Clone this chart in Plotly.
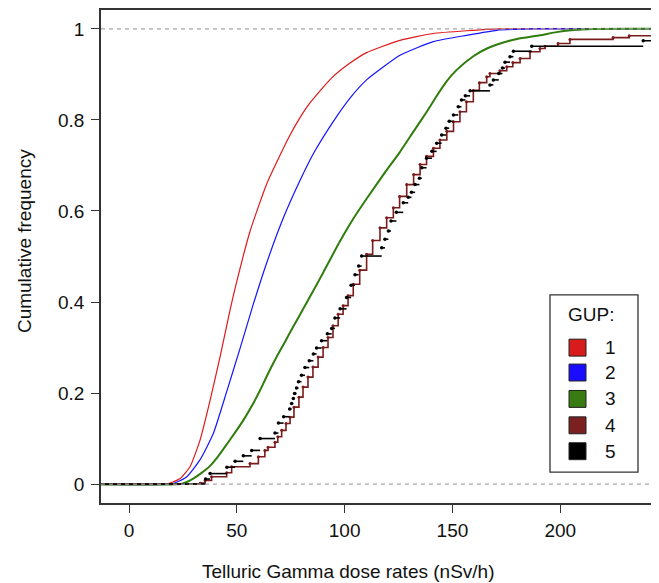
import plotly.graph_objects as go

# ---------------- data ----------------
# GUP 1 (red) : dose rate (nSv/h) vs cumulative frequency
red_x = [17, 20, 23.7, 28.3, 32.9, 37.6, 42.2, 46.8, 49.2, 56.1, 63.9, 73.9, 79.3, 84, 93.9,
         102.5, 110.2, 125.7, 141, 156.6, 172]
red_F = [0, 0.004, 0.012, 0.038, 0.096, 0.184, 0.279, 0.381, 0.43, 0.555, 0.66, 0.76, 0.805,
         0.838, 0.892, 0.925, 0.948, 0.975, 0.99, 0.996, 1.0]

# GUP 2 (blue)
blue_x = [19, 22, 26.8, 32.9, 39.1, 45.3, 51.5, 57.5, 64, 71.6, 79.3, 86, 94.8, 102.5, 110.2,
          125.7, 141.1, 156.6, 170.5, 187]
blue_F = [0, 0.004, 0.016, 0.053, 0.111, 0.203, 0.298, 0.393, 0.488, 0.585, 0.667, 0.73, 0.797,
          0.848, 0.888, 0.942, 0.972, 0.986, 0.997, 1.0]

# GUP 3 (green)
green_x = [23.7, 26.5, 29.8, 33.5, 37.6, 41.5, 45.3, 49, 53, 57, 60.8, 64.5, 68.5, 72.5, 76.2,
           80.8, 86.3, 90.1, 97.9, 104, 110.2, 118, 125.7, 132, 138.1, 143, 147.3, 152, 159.7,
           166, 172.1, 180, 190.6, 198.3, 205, 215]
green_F = [0, 0.004, 0.012, 0.024, 0.040, 0.062, 0.087, 0.112, 0.14, 0.172, 0.206, 0.243, 0.28,
           0.314, 0.346, 0.385, 0.432, 0.465, 0.534, 0.583, 0.627, 0.68, 0.73, 0.775, 0.818,
           0.855, 0.885, 0.91, 0.94, 0.957, 0.968, 0.978, 0.986, 0.993, 0.997, 1.0]

# GUP 4 (brown) step function: left end of each step
brown_x = [33, 35.3, 38.3, 45.3, 47.6, 56.1, 60, 63, 64.5, 67.7, 69, 70.8, 72.8, 74.7, 76.5,
           78.8, 80.7, 83, 85.3, 87.7, 90, 92.3, 94.6, 97, 99.3, 101.6, 104, 107, 110.2, 113,
           116.4, 119.5, 122.6, 125.5, 128.8, 132, 135, 138, 141.2, 144.2, 147.4, 150.5, 153.5,
           156.5, 159.7, 162.5, 165.9, 167.4, 172, 175.2, 178, 181.4, 186, 190.6, 193, 199,
           204.5, 224.5, 232, 246, 252]
brown_F = [0.002, 0.008, 0.016, 0.025, 0.038, 0.045, 0.06, 0.074, 0.081, 0.092, 0.104, 0.118,
           0.133, 0.147, 0.169, 0.191, 0.213, 0.235, 0.257, 0.279, 0.3, 0.322, 0.348, 0.373,
           0.392, 0.414, 0.439, 0.47, 0.505, 0.535, 0.563, 0.585, 0.607, 0.632, 0.658, 0.68,
           0.702, 0.72, 0.738, 0.756, 0.775, 0.796, 0.818, 0.84, 0.865, 0.882, 0.895, 0.902,
           0.908, 0.917, 0.926, 0.935, 0.95, 0.957, 0.962, 0.968, 0.977, 0.981, 0.985, 0.988, 1.0]

# GUP 5 (black) step function without verticals: left end of each step
black_x = [35.5, 37.6, 45.4, 49.2, 53.0, 56.9, 60.8, 67.7, 69.3, 71.7, 74.5, 75.4, 76.2, 76.8,
           77.7, 78.6, 80.0, 81.6, 83.6, 85.5, 87.0, 89.3, 92.0, 94.0, 95.5, 97.9, 100.9, 103.0,
           104.8, 106.5, 107.9, 117.2, 118.7, 120.3, 121.5, 124.0, 127.2, 129.5, 131.0, 132.7,
           134.7, 135.8, 138.0, 140.5, 142.7, 145.0, 147.0, 148.5, 150.5, 152.7, 154.2, 156.0,
           158.2, 167.4, 169.0, 171.5, 173.2, 174.4, 176.7, 178.3, 186.8, 238.5, 255]
black_F = [0.011, 0.023, 0.037, 0.050, 0.062, 0.074, 0.100, 0.112, 0.134, 0.148, 0.165, 0.177,
           0.188, 0.199, 0.211, 0.225, 0.239, 0.256, 0.271, 0.286, 0.299, 0.315, 0.330, 0.342,
           0.365, 0.385, 0.410, 0.437, 0.460, 0.479, 0.501, 0.519, 0.538, 0.556, 0.578, 0.597,
           0.618, 0.630, 0.641, 0.658, 0.672, 0.695, 0.716, 0.731, 0.749, 0.767, 0.782, 0.797,
           0.811, 0.829, 0.844, 0.853, 0.864, 0.877, 0.888, 0.902, 0.914, 0.927, 0.939, 0.951,
           0.962, 0.974, 1.0]

groups = ["1", "2", "3", "4", "5"]
colors = ["#e01a1a", "#1414ff", "#2f7d0c", "#7a1c1c", "#000000"]
legend_fill = ["#d81c1c", "#1a0cff", "#3a7a12", "#7a2020", "#000000"]

x_range = [-13, 243.5]
y_range = [-0.0416, 1.0416]
x_ticks = [0, 50, 100, 150, 200]
y_ticks = [0, 0.2, 0.4, 0.6, 0.8, 1]
y_ticktext = ["0", "0.2", "0.4", "0.6", "0.8", "1"]

# ---------------- figure ----------------
FONT = "Liberation Sans, Arial, sans-serif"
OFF = 8                      # the page body has an 8px margin
W, H = 659 - OFF, 583 - OFF
L, R, T, B = 101 - OFF, 654 - OFF, 8 - OFF, 503 - OFF   # plot area in figure pixels


def px_x(p):
    """screen pixel -> paper x"""
    return (p - OFF - L) / (R - L)


def px_y(p):
    """screen pixel -> paper y"""
    return (B - (p - OFF)) / (B - T)


fig = go.Figure()

lo, hi = -30, 270
for xs, fs, col, w in [(red_x, red_F, colors[0], 1.2),
                       (blue_x, blue_F, colors[1], 1.2),
                       (green_x, green_F, colors[2], 2.0)]:
    fig.add_trace(go.Scatter(x=[lo] + xs + [hi], y=[0] + fs + [1], mode="lines",
                             line=dict(color=col, width=w, shape="spline", smoothing=0.5),
                             showlegend=False, hoverinfo="skip"))

# brown: step function
fig.add_trace(go.Scatter(x=[lo] + brown_x, y=[0] + brown_F, mode="lines+markers",
                         line=dict(color=colors[3], width=1.6, shape="hv"),
                         marker=dict(color=colors[3], size=3),
                         showlegend=False, hoverinfo="skip"))

# black: horizontal segments only
bx, by = [lo, black_x[0], None], [0, 0, None]
for i in range(len(black_x) - 1):
    bx += [black_x[i], black_x[i + 1], None]
    by += [black_F[i], black_F[i], None]
fig.add_trace(go.Scatter(x=bx, y=by, mode="lines", line=dict(color=colors[4], width=1.6),
                         showlegend=False, hoverinfo="skip", connectgaps=False))
fig.add_trace(go.Scatter(x=black_x, y=black_F, mode="markers",
                         marker=dict(color=colors[4], size=3.5),
                         showlegend=False, hoverinfo="skip"))

shapes = []
for yv in [0, 1]:
    shapes.append(dict(type="line", xref="paper", x0=0, x1=1, yref="y", y0=yv, y1=yv,
                       line=dict(color="#a8a8a8", width=1.2, dash="4px,4px"), layer="above"))

# manual legend
shapes.append(dict(type="rect", xref="paper", yref="paper",
                   x0=px_x(550), x1=px_x(638), y0=px_y(472), y1=px_y(294),
                   line=dict(color="#333333", width=1.3), fillcolor="white", layer="above"))
TXT = dict(family=FONT, size=19, color="#111")
annotations = [dict(text="GUP:", xref="paper", yref="paper", x=px_x(591), y=px_y(314),
                    showarrow=False, font=TXT, xanchor="center", yanchor="middle")]
row_y = [347, 372, 398.5, 425, 451]
for g, fc, ry in zip(groups, legend_fill, row_y):
    shapes.append(dict(type="rect", xref="paper", yref="paper",
                       x0=px_x(569), x1=px_x(586), y0=px_y(ry + 8.5), y1=px_y(ry - 8.5),
                       line=dict(color="#222222", width=1), fillcolor=fc, layer="above"))
    annotations.append(dict(text=g, xref="paper", yref="paper", x=px_x(610), y=px_y(ry),
                            showarrow=False, font=TXT, xanchor="center", yanchor="middle"))

annotations.append(dict(text="Telluric Gamma dose rates (nSv/h)", xref="paper", yref="paper",
                        x=px_x(348), y=px_y(572), showarrow=False, font=TXT,
                        xanchor="center", yanchor="middle"))
annotations.append(dict(text="Cumulative frequency", xref="paper", yref="paper",
                        x=px_x(24), y=px_y(240), showarrow=False, textangle=-90, font=TXT,
                        xanchor="center", yanchor="middle"))

axis_common = dict(showgrid=False, zeroline=False, showline=True, mirror=True,
                   linecolor="#333333", linewidth=1.5, ticks="outside", ticklen=8,
                   tickwidth=1.2, tickcolor="#333333", tickfont=TXT)

fig.update_layout(
    width=W, height=H,
    margin=dict(l=L, r=W - R, t=T, b=H - B, pad=0),
    paper_bgcolor="white", plot_bgcolor="white",
    xaxis=dict(range=x_range, tickvals=x_ticks, ticktext=[str(v) for v in x_ticks],
               ticklabelstandoff=1, **axis_common),
    yaxis=dict(range=y_range, tickvals=y_ticks, ticktext=y_ticktext,
               ticklabelstandoff=3, **axis_common),
    shapes=shapes, annotations=annotations, showlegend=False,
)

fig.write_html("out.html")
